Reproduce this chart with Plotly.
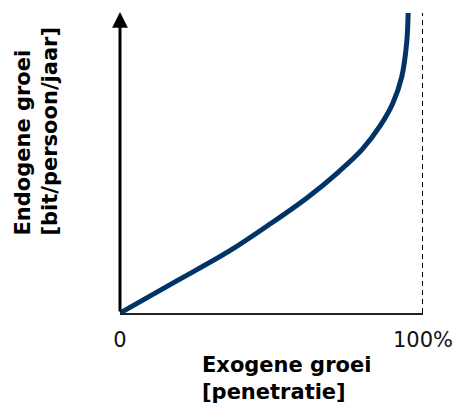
import plotly.graph_objects as go

# penetration (x, %) vs endogenous growth (y, arbitrary units)
penetratie = [0, 18, 36, 50, 62, 72, 80, 86, 90, 93, 94.6, 95.1]
groei = [0, 10.3, 20.6, 30.0, 38.6, 46.9, 54.6, 62.6, 69.8, 78.8, 89.9, 100]
tick_vals = [0, 100]
tick_text = ["0", "100%"]

font_name = "DejaVu Sans"

fig = go.Figure()
fig.add_trace(go.Scatter(
    x=penetratie, y=groei, mode="lines",
    line=dict(color="#003366", width=5, shape="spline"),
    cliponaxis=False, hoverinfo="skip",
))

# dashed 100% limit
fig.add_shape(type="line", x0=100, x1=100, y0=0, y1=100,
              line=dict(color="black", width=2, dash="5px,4px"))

annotations = [
    # vertical axis with arrow
    dict(x=0, y=100.3, ax=0, ay=0, xref="x", yref="y", axref="x", ayref="y",
         text="", showarrow=True, arrowhead=2, arrowwidth=3, arrowsize=1.05,
         arrowcolor="black"),
    dict(x=0.264, y=-0.127, xref="paper", yref="paper", xanchor="left", yanchor="top",
         align="left", showarrow=False,
         text="<b>Exogene groei</b><br><b>[penetratie]</b>",
         font=dict(family=font_name, size=21, color="black")),
    dict(x=-0.277, y=0.25, xref="paper", yref="paper", xanchor="center", yanchor="bottom",
         align="left", showarrow=False, textangle=-90,
         text="<b>Endogene groei</b><br><b>[bit/persoon/jaar]</b>",
         font=dict(family=font_name, size=21, color="black")),
]

# page body adds an 8px margin, so the figure is a bit smaller than the window
fig.update_layout(
    width=455, height=397,
    margin=dict(l=112, r=40, t=5, b=92),
    paper_bgcolor="white", plot_bgcolor="white",
    showlegend=False,
    annotations=annotations,
    xaxis=dict(range=[0, 100], showgrid=False, zeroline=False,
               showline=True, linecolor="#222", linewidth=2,
               tickvals=tick_vals, ticktext=tick_text, ticks="",
               ticklabelstandoff=7,
               tickfont=dict(family=font_name, size=21, color="#111")),
    yaxis=dict(range=[0, 100], showgrid=False, zeroline=False,
               showline=False, showticklabels=False),
)

fig.write_html("out.html")
